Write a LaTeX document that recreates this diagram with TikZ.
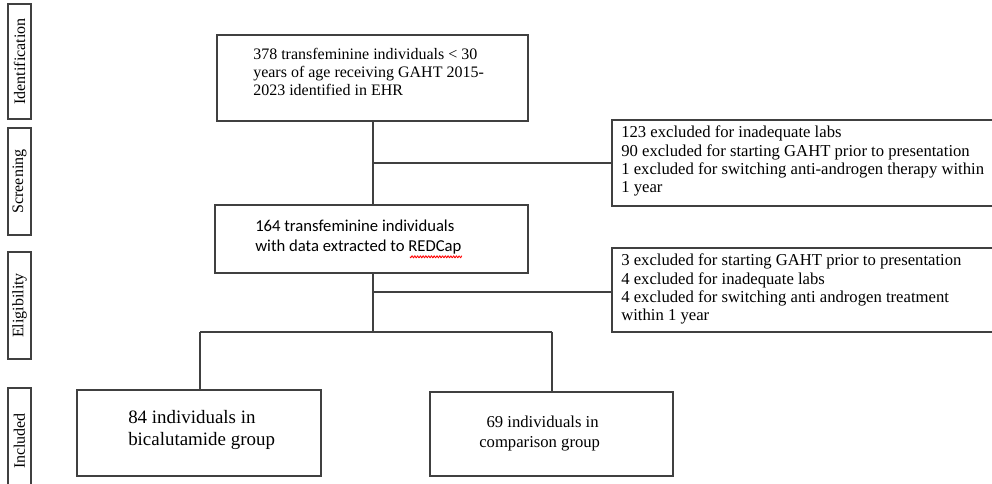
\documentclass[tikz,border=0pt]{standalone}
\usepackage{fontspec}
\setmainfont{Liberation Serif}
\newfontfamily\calibri{Carlito}
\definecolor{linec}{HTML}{404040}
\begin{document}
\begin{tikzpicture}[x=0.75pt,y=-0.75pt,
  box/.style={draw=linec, line width=0.85pt, rectangle, inner sep=0pt, outer sep=0pt, anchor=north west},
  sidebox/.style={draw=linec, line width=0.85pt, rectangle, inner sep=0pt, outer sep=0pt, rotate=90, minimum height=17.25pt, font=\fontsize{12}{14}\selectfont},
  txt/.style={inner sep=0pt, anchor=base west, align=left, font=\fontsize{12.5}{13.8}\selectfont},
  conn/.style={draw=linec, line width=0.85pt},
  spell/.style={draw=red, line width=0.6pt}]
\clip (0,0) rectangle (992,484);
\fill[white] (0,0) rectangle (992,484);
% side labels
\node[sidebox, minimum width=86.25pt] (sid) at (19.5,61.5) {Identification};
\node[sidebox, minimum width=80.25pt] (sscr) at (19.5,181.5) {Screening};
\node[sidebox, minimum width=80.25pt] (selig) at (19.5,305.5) {Eligibility};
\node[sidebox, minimum width=79.5pt] (sincl) at (19.5,441) {Included};
% boxes
\node[box, minimum width=233.25pt, minimum height=64.5pt] (b1) at (217,35) {};
\node[txt, font=\fontsize{12}{13.5}\selectfont] (t1) at (253,96) {378 transfeminine individuals < 30\\years of age receiving GAHT 2015-\\2023 identified in EHR};
\node[box, minimum width=234.75pt, minimum height=51pt] (b2) at (215,205) {};
\node[txt, font=\calibri\fontsize{12.5}{15}\selectfont] (t2) at (255,252) {164 transfeminine individuals\\with data extracted to REDCap};
\draw[spell] plot[domain=0:52, samples=120, smooth] ({410+\x}, {256.8+1.0*sin(\x*130)});
\node[box, minimum width=291pt, minimum height=64.5pt] (e1) at (612,120) {};
\node[txt] (te1) at (621,193) {123 excluded for inadequate labs\\90 excluded for starting GAHT prior to presentation\\1 excluded for switching anti-androgen therapy within\\1 year};
\node[box, minimum width=291pt, minimum height=63pt] (e2) at (612,248) {};
\node[txt] (te2) at (621,321) {3 excluded for starting GAHT prior to presentation\\4 excluded for inadequate labs\\4 excluded for switching anti androgen treatment\\within 1 year};
\node[box, minimum width=183pt, minimum height=64.5pt] (g1) at (77,390) {};
\node[txt, font=\fontsize{14.2}{16}\selectfont] (tg1) at (128,445) {84 individuals in\\bicalutamide group};
\node[box, minimum width=182.25pt, minimum height=63pt] (g2) at (430,392) {};
\node[txt, font=\fontsize{12.5}{15}\selectfont] (tg2) at (479,447) {\hspace*{5.5pt}69 individuals in\\comparison group};
% connectors
\coordinate (j1) at (373,163);
\coordinate (j2) at (373,292);
\coordinate (j3) at (373,332);
\coordinate (l1) at (200,332);
\coordinate (r1) at (552,332);
\draw[conn] (b1.south -| j1) -- (b2.north -| j1);
\draw[conn] (j1) -- (j1 -| e1.west);
\draw[conn] (b2.south -| j1) -- (j3);
\draw[conn] (j2) -- (j2 -| e2.west);
\draw[conn] (l1) -- (r1);
\draw[conn] (l1) -- (l1 |- g1.north);
\draw[conn] (r1) -- (r1 |- g2.north);
\end{tikzpicture}
\end{document}
